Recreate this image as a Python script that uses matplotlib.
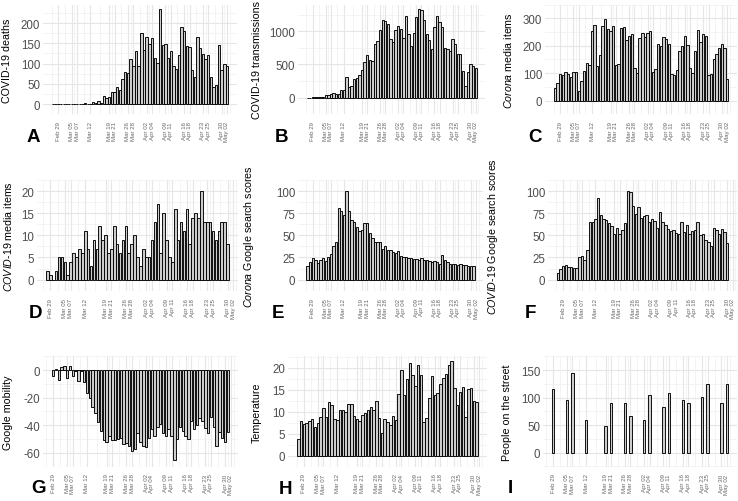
import numpy as np
import pandas as pd
import matplotlib
matplotlib.use("Agg")
import matplotlib.pyplot as plt
import matplotlib.dates as mdates

plt.rcParams['font.family'] = 'Liberation Sans'
plt.rcParams['mathtext.fontset'] = 'custom'
plt.rcParams['mathtext.it'] = 'Liberation Sans:italic'
plt.rcParams['mathtext.rm'] = 'Liberation Sans'

# x-axis breaks (days with street counts)
break_dates = pd.to_datetime(['2020-02-29', '2020-03-05', '2020-03-07', '2020-03-12',
                              '2020-03-19', '2020-03-21', '2020-03-26', '2020-03-28',
                              '2020-04-02', '2020-04-04', '2020-04-09', '2020-04-11',
                              '2020-04-16', '2020-04-18', '2020-04-23', '2020-04-25',
                              '2020-04-30', '2020-05-02'])
break_labels = [d.strftime('%b %d') for d in break_dates]

# A: deaths, Feb 27 - May 2
deaths = [0, 0, 0, 0, 0, 0, 0, 0, 1, 0, 0, 0, 3, 1, 1, 5, 2, 8, 4, 19,
          15, 18, 30, 30, 43, 34, 63, 80, 78, 112, 93, 132, 93, 175, 134, 166, 148, 164, 115, 101,
          234, 147, 148, 115, 132, 94, 86, 122, 189, 181, 144, 142, 83, 67, 165, 138, 123, 112, 120, 66,
          43, 48, 145, 84, 98, 94]
# B: transmissions, Feb 27 - May 2
transmissions = [1, 1, 4, 4, 8, 6, 14, 44, 46, 60, 77, 56, 61, 121, 111, 310, 155, 176, 278, 292,
                 346, 409, 534, 637, 573, 545, 811, 852, 1019, 1172, 1159, 1104, 884, 845, 1019, 1083, 1026, 904, 1224, 952,
                 777, 969, 1213, 1335, 1316, 1174, 964, 868, 734, 1061, 1235, 1140, 1066, 750, 729, 708, 887, 808, 655, 655,
                 400, 171, 386, 514, 475, 445]
# C: Corona media items, Feb 27 - May 2
corona_media = [45, 65, 95, 92, 105, 98, 85, 105, 105, 35, 72, 108, 136, 130, 252, 275, 125, 165,
                272, 298, 260, 255, 272, 130, 135, 265, 268, 222, 235, 243, 120, 102,
                228, 246, 230, 245, 255, 105, 115, 205, 200, 230, 225, 205, 95, 92,
                110, 180, 200, 235, 203, 120, 102, 180, 258, 215, 243, 235, 92, 97,
                152, 170, 193, 205, 192, 77]
# D: COVID-19 media items, Feb 28 - Apr 30
covid_media = [2, 1, 0, 2, 5, 5, 4, 1, 4, 6, 5, 7, 6, 11, 7, 3, 9, 7, 12, 9,
               10, 6, 7, 12, 8, 6, 9, 12, 6, 8, 10, 5, 3, 7, 5, 5, 9, 13, 17, 6,
               15, 9, 5, 4, 16, 9, 13, 11, 16, 8, 14, 15, 14, 20, 13, 13, 13, 11, 9, 11,
               13, 13, 8]
# E: Corona Google search, Feb 27 - May 1
corona_search = [15, 20, 24, 22, 19, 22, 24, 21, 26, 29, 38, 43, 81, 77, 73, 100, 78, 67, 65, 59,
                 55, 56, 64, 64, 53, 47, 43, 43, 43, 35, 38, 34, 33, 31, 30, 32, 27, 26, 25, 24,
                 24, 23, 23, 22, 24, 22, 22, 21, 20, 21, 20, 18, 28, 22, 20, 18, 18, 18, 17, 18,
                 17, 16, 15, 15, 15]
# F: COVID-19 Google search, Feb 27 - Apr 30
covid_search = [8, 12, 15, 16, 14, 14, 13, 13, 26, 27, 22, 33, 65, 65, 69, 92, 73, 68, 67, 64,
                60, 51, 58, 51, 56, 64, 100, 99, 83, 74, 82, 70, 72, 73, 65, 69, 66, 58, 76, 65,
                62, 57, 55, 56, 53, 51, 65, 54, 62, 52, 55, 56, 65, 50, 51, 45, 43, 38, 58, 56,
                52, 57, 54, 41]
# G: Google mobility, Feb 29 - May 1
mobility = [-4, 1, -7, 2, 3, -6, 3, -4, -1, -8, -1, -9, -17, -20, -27, -31, -38, -44, -51, -52,
            -48, -51, -51, -50, -49, -54, -53, -55, -59, -57, -46, -52, -55, -56, -49, -43, -48, -41, -39, -46,
            -48, -43, -48, -65, -50, -41, -44, -48, -50, -37, -43, -40, -35, -37, -42, -46, -34, -41, -55, -45,
            -49, -52, -45]
# H: temperature, Feb 27 - May 1
temperature = [3.7, 7.8, 7.2, 7.4, 7.9, 8.4, 6.5, 7.3, 8.8, 10.7, 8.7, 12.1, 11.4, 8.4, 8.1, 10.4, 10.4, 9.9, 11.8, 11.8,
               9.0, 8.2, 7.9, 9.3, 9.7, 10.3, 11.1, 10.3, 12.4, 8.6, 5.1, 8.4, 7.6, 7.0, 9.1, 8.1, 14.0, 19.4, 13.8, 17.5,
               21.1, 18.3, 15.8, 20.5, 18.4, 7.7, 8.6, 13.0, 18.1, 13.8, 14.3, 16.3, 17.6, 18.5, 20.6, 21.5, 15.4, 11.6, 14.4, 15.5,
               8.8, 15.1, 15.4, 12.4, 12.2]
# I: people on the street, on break days
street = [116, 95, 145, 59, 48, 91, 90, 67, 59, 104, 83, 108, 96, 90, 101, 125, 91, 124]

W, H = 738, 502
fig = plt.figure(figsize=(W / 100, H / 100), dpi=100)

bx = mdates.date2num(break_dates)


def minor_of(b):
    b = np.asarray(b, dtype=float)
    mids = (b[:-1] + b[1:]) / 2
    return np.concatenate([[b[0] - (b[1] - b[0]) / 2], mids, [b[-1] + (b[-1] - b[-2]) / 2]])


def panel(box, dates, vals, yticks, ylabel, ylab_x, letter, letter_xy):
    l, t, r, b = box
    ax = fig.add_axes([l / W, 1 - b / H, (r - l) / W, (b - t) / H])
    xn = mdates.date2num(dates)
    vals = np.asarray(vals, dtype=float)
    ax.bar(xn, vals, width=0.9, color='#cccccc', edgecolor='black', linewidth=0.65, zorder=3)
    lo, hi = xn.min() - 0.45, xn.max() + 0.45
    pad = 0.05 * (hi - lo)
    ax.set_xlim(lo - pad, hi + pad)
    ymin, ymax = min(0, vals.min()), max(0, vals.max())
    yr = ymax - ymin
    ax.set_ylim(ymin - 0.05 * yr, ymax + 0.05 * yr)
    ax.set_xticks(bx)
    ax.set_xticklabels(break_labels, rotation=90, fontsize=4.4, color='#666666')
    ax.set_xticks(minor_of(bx), minor=True)
    ax.set_yticks(yticks)
    ax.set_yticklabels([str(v) for v in yticks], fontsize=8.3, color='#4d4d4d')
    ax.set_yticks(minor_of(yticks), minor=True)
    ax.set_axisbelow(True)
    ax.grid(which='major', color='#e6e6e6', linewidth=0.8)
    ax.grid(which='minor', color='#eeeeee', linewidth=0.45)
    for s in ax.spines.values():
        s.set_visible(False)
    ax.tick_params(which='both', length=0)
    ax.tick_params(axis='y', pad=2)
    ax.tick_params(axis='x', pad=5)
    fig.text(ylab_x / W, 1 - (t + b) / 2 / H, ylabel, rotation=90, ha='center', va='center', fontsize=7.7)
    fig.text(letter_xy[0] / W, 1 - letter_xy[1] / H, letter, fontsize=13.5, fontweight='bold',
             ha='center', va='center')
    return ax


d27 = pd.date_range('2020-02-27', periods=66, freq='D')

panel((43, 5.5, 237, 115.3), d27[:len(deaths)], deaths, [0, 50, 100, 150, 200],
      'COVID-19 deaths', 7.5, 'A', (33, 137))
panel((298, 5.5, 485.5, 115.3), d27[:len(transmissions)], transmissions, [0, 500, 1000],
      'COVID-19 transmissions', 257, 'B', (282, 137))
panel((545, 5.5, 737, 115.3), d27[:len(corona_media)], corona_media, [0, 100, 200, 300],
      r'$\mathit{Corona}$ media items', 508, 'C', (535, 137))

panel((37, 181, 238, 291.7), pd.date_range('2020-02-28', periods=len(covid_media), freq='D'), covid_media,
      [0, 5, 10, 15, 20], r'$\mathit{COVID}$-$\mathit{19}$ media items', 8, 'D', (35, 313))
panel((298, 181, 483, 291.7), d27[:len(corona_search)], corona_search, [0, 25, 50, 75, 100],
      r'$\mathit{Corona}$ Google search scores', 249, 'E', (278, 314))
panel((548, 181, 737, 291.7), d27[:len(covid_search)], covid_search, [0, 25, 50, 75, 100],
      r'$\mathit{COVID}$-$\mathit{19}$ Google search scores', 493, 'F', (530, 314))

panel((43, 357.3, 238, 467.5), pd.date_range('2020-02-29', periods=len(mobility), freq='D'), mobility,
      [-60, -40, -20, 0], 'Google mobility', 8, 'G', (38, 489))
panel((288, 357.3, 487, 467.5), d27[:len(temperature)], temperature, [0, 5, 10, 15, 20],
      'Temperature', 257, 'H', (285, 490))
panel((543, 357.3, 737, 467.5), break_dates, street, [0, 50, 100, 150],
      'People on the street', 507, 'I', (510, 489))

fig.savefig('out.png', dpi=100)
